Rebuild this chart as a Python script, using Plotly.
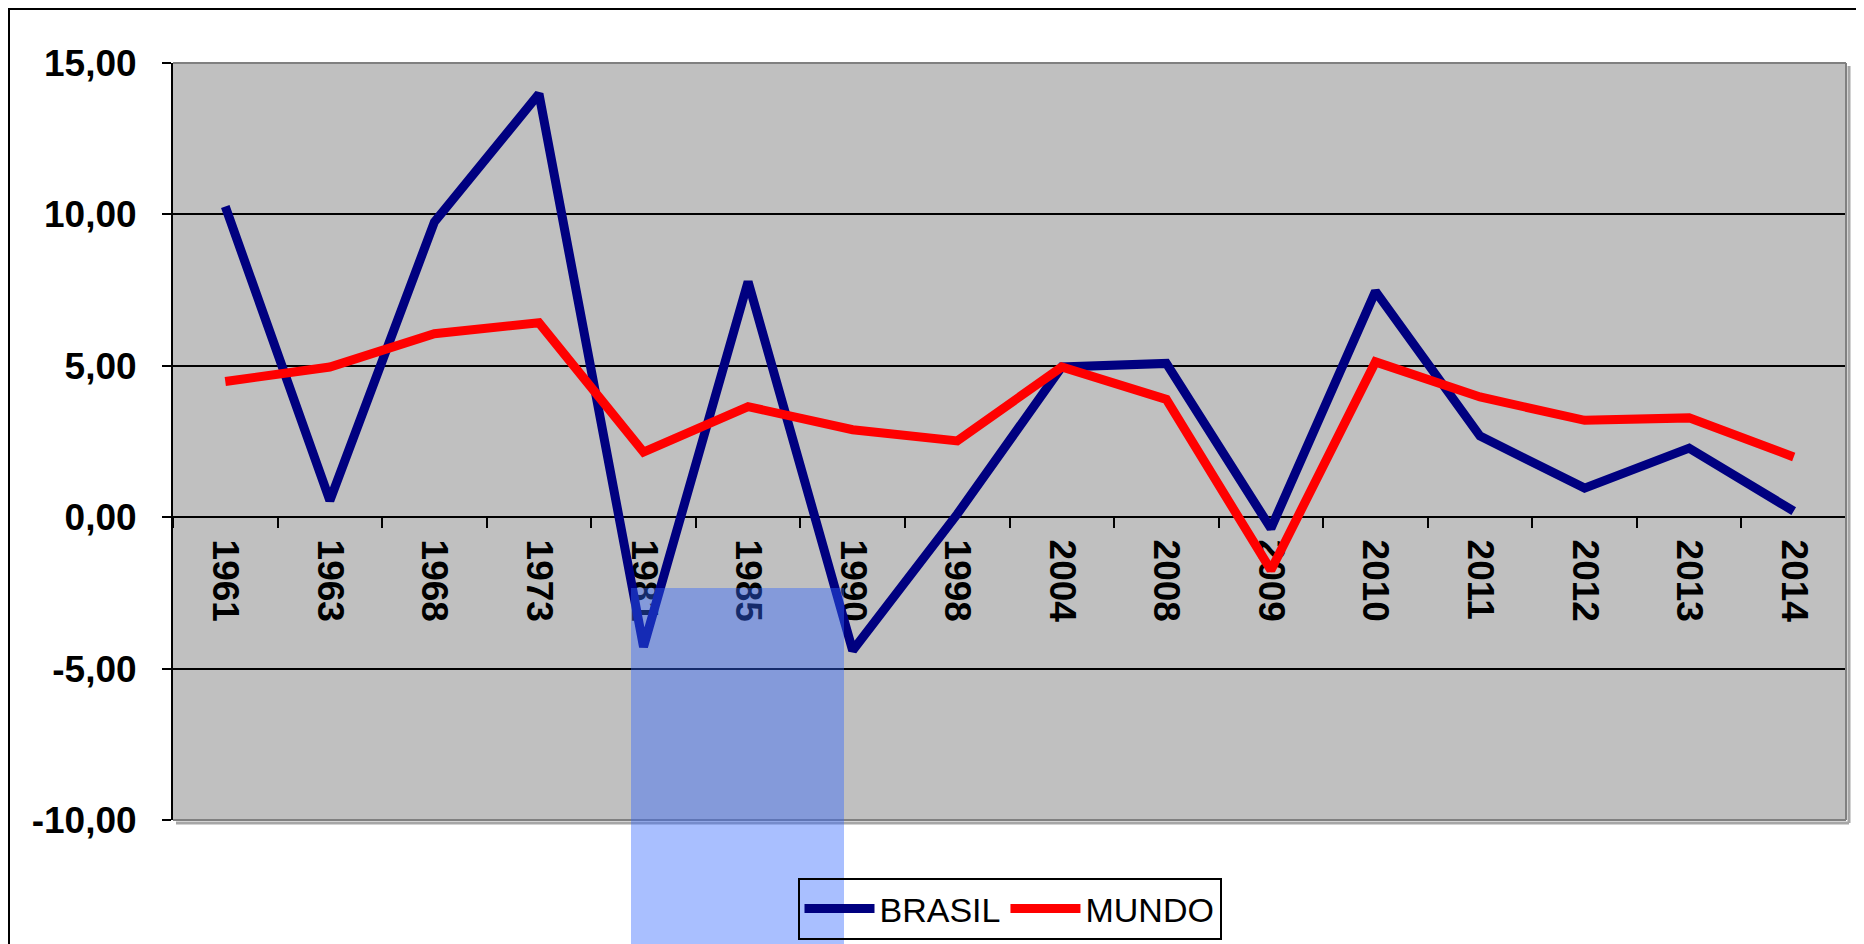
import plotly.graph_objects as go

years = ["1961", "1963", "1968", "1973", "1981", "1985", "1990", "1998",
         "2004", "2008", "2009", "2010", "2011", "2012", "2013", "2014"]
brasil = [10.26, 0.55, 9.75, 13.98, -4.28, 7.78, -4.40, 0.10,
          4.96, 5.08, -0.37, 7.46, 2.68, 0.96, 2.28, 0.20]
mundo = [4.48, 4.96, 6.06, 6.42, 2.15, 3.65, 2.89, 2.52,
         4.96, 3.89, -1.75, 5.13, 3.97, 3.20, 3.28, 1.99]

y_tick_vals = [-10, -5, 0, 5, 10, 15]
y_tick_labels = ["-10,00", "-5,00", "0,00", "5,00", "10,00", "15,00"]

FONT = "Liberation Sans, Arial, sans-serif"

fig = go.Figure()
fig.add_trace(go.Scatter(x=years, y=brasil, mode="lines", name="BRASIL",
                         line=dict(color="#000080", width=9)))
fig.add_trace(go.Scatter(x=years, y=mundo, mode="lines", name="MUNDO",
                         line=dict(color="#FF0000", width=9)))

# page has an 8px body margin; figure coordinates = screen coordinates - 8
OFF = 8
W, H = 1864 - OFF, 944 - OFF
L, T = 173 - OFF, 63 - OFF
R = W - (1846 - OFF)
B = H - (820 - OFF)
pw, ph = W - L - R, H - T - B

def px_x(x):
    return (x - OFF - L) / pw

def px_y(y):
    return (H - B - (y - OFF)) / ph

shapes = [
    # outer chart frame
    dict(type="rect", xref="paper", yref="paper",
         x0=px_x(9), x1=1.2, y0=-0.4, y1=px_y(9),
         line=dict(color="black", width=2), fillcolor="rgba(0,0,0,0)", layer="above"),
    # plot area border (top, right, bottom) in gray with shadow
    dict(type="line", xref="paper", yref="paper", x0=0, x1=1, y0=1, y1=1,
         line=dict(color="#808080", width=2), layer="above"),
    dict(type="line", xref="paper", yref="paper", x0=1, x1=1, y0=0, y1=1,
         line=dict(color="#808080", width=2), layer="above"),
    dict(type="line", xref="paper", yref="paper", x0=0, x1=1, y0=0, y1=0,
         line=dict(color="#808080", width=2), layer="above"),
    dict(type="line", xref="paper", yref="paper", x0=1 + 3 / pw, x1=1 + 3 / pw,
         y0=-3 / ph, y1=1 - 3 / ph, line=dict(color="#A6A6A6", width=3), layer="above"),
    dict(type="line", xref="paper", yref="paper", x0=3 / pw, x1=1 + 3 / pw,
         y0=-3 / ph, y1=-3 / ph, line=dict(color="#A6A6A6", width=3), layer="above"),
    # translucent blue selection overlay
    dict(type="rect", xref="paper", yref="paper",
         x0=px_x(631), x1=px_x(844), y0=-0.4, y1=px_y(588),
         line=dict(width=0), fillcolor="rgba(51,102,255,0.42)", layer="above"),
]

fig.update_layout(
    width=W, height=H,
    margin=dict(l=L, r=R, t=T, b=B, autoexpand=False),
    paper_bgcolor="white",
    plot_bgcolor="#C0C0C0",
    font=dict(family=FONT, color="black"),
    showlegend=True,
    legend=dict(orientation="h", x=0.5, xanchor="center", y=px_y(878), yanchor="top",
                bgcolor="rgba(0,0,0,0)", bordercolor="black", borderwidth=2,
                font=dict(family=FONT, size=34, color="black"),
                itemwidth=70, tracegroupgap=0),
    shapes=shapes,
    xaxis=dict(
        type="category", categoryorder="array", categoryarray=years,
        range=[-0.5, len(years) - 0.5],
        anchor="free", position=10 / 25,
        showline=True, linecolor="black", linewidth=2,
        ticks="outside", ticklen=10, tickwidth=2, tickcolor="black",
        tickson="boundaries", showgrid=False, zeroline=False,
        tickangle=90, tickfont=dict(family=FONT, size=37, color="black", weight="bold"),
        ticklabelstandoff=14, automargin=False, layer="below traces",
    ),
    yaxis=dict(
        range=[-10, 15], tickvals=y_tick_vals, ticktext=y_tick_labels,
        showline=True, linecolor="black", linewidth=2,
        ticks="outside", ticklen=9, tickwidth=2, tickcolor="black",
        showgrid=True, gridcolor="black", gridwidth=2, zeroline=False,
        tickfont=dict(family=FONT, size=37, color="black", weight="bold"),
        ticklabelstandoff=18, automargin=False, layer="below traces",
    ),
)

fig.write_html("out.html")
